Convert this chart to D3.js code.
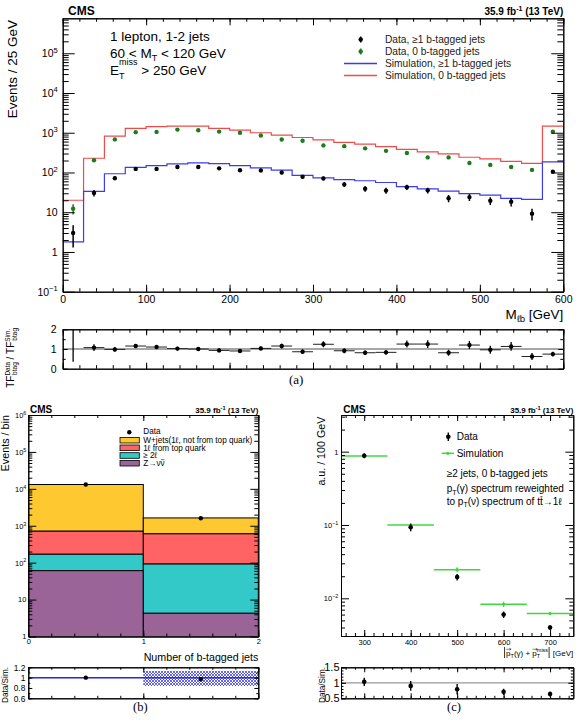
<!DOCTYPE html>
<html><head><meta charset="utf-8">
<script src="https://cdn.jsdelivr.net/npm/d3@7"></script>
<style>body{margin:0;background:#fff} text{white-space:pre}</style>
</head><body>
<svg id="chart" width="581" height="720" xmlns="http://www.w3.org/2000/svg"></svg>
<script>
// ---------------- DATA ----------------
// Panel (a): M_lb distribution, 25 GeV bins
const mlbEdges = [0,25,50,75,100,125,150,175,200,225,250,275,300,325,350,375,400,425,450,475,500,525,550,575,600];
const simBtag  = [1.8,33.5,93,135,148,165,174,167,148,131,114,85,73,66,62,56,44,38.5,34,29.3,27,22.3,21,186];
const sim0b    = [20,228,820,1290,1420,1470,1470,1290,1163,1000,870,760,665,575,515,445,380,330,295,242,220,190,170,1470];
const dataBtag    = [3.0,30.5,72,123,123,138,138,127,114,113,100,78,71,50,39,35,42.6,35.5,22.4,24,19.5,18.3,9.2,105];
const dataBtagErr = [1.7,5.5,8.5,11,11,12,12,11,11,11,10,9,8.5,7,6.2,6,6.5,6,4.7,4.9,4.4,4.3,3,10];
const data0b      = [12.3,204,680,1035,1050,1200,1160,1070,1000,850,676,630,480,460,405,350,310,240,240,174,155,138,116,1070];
const data0bErr   = [3.5,14,26,32,32,35,34,33,32,29,26,25,22,21,20,19,18,15,15,13,12,12,11,33];
const ratioTF     = [2.6,1.07,0.98,1.15,1.10,1.02,1.0,0.93,0.90,1.03,1.15,0.86,1.24,0.91,0.81,0.83,1.25,1.25,0.81,1.20,0.96,1.13,0.62,0.74];
const ratioTFErr  = [2.25,0.17,0.12,0.1,0.1,0.1,0.1,0.1,0.1,0.1,0.12,0.12,0.15,0.12,0.12,0.12,0.18,0.2,0.15,0.2,0.2,0.22,0.18,0.12];
const mlbTicks = [0,100,200,300,400,500,600];

// Panel (b): number of b-tagged jets
const nbEdges = [0,1,2];
const nbTicks = [0,1,2];
const zNuNu     = [61, 4.3];
const twoLep    = [110, 88.7];
const oneLepTop = [549, 517];
const wJets     = [12380, 1020];
const dataNb    = [13100, 1600];
const ratioNb   = [1.0, 0.97];
const ratioNbLo = [0.99, 0.84];
const ratioNbHi = [1.01, 1.13];

// Panel (c): photon + MET pT
const ptEdges   = [250,350,450,550,650,750];
const ptCenters = [300,400,500,600,700];
const ptData    = [0.88,0.093,0.0195,0.006,0.004];
const ptDataErr = [0.07,0.011,0.002,0.0006,0.0003];
const ptSim     = [0.87,0.10,0.0246,0.0083,0.0062];
const ptSimErr  = [0.02,0.006,0.002,0.0007,0.0003];
const ratioPt   = [1.03,0.90,0.79,0.71,0.64];
const ratioPtErr= [0.13,0.16,0.17,0.1,0.08];
const ptTicks = [300,400,500,600,700];

// ---------------- HELPERS ----------------
const FONT = '"Liberation Sans", Arial, Helvetica, sans-serif';
const SERIF = '"Liberation Serif", "Times New Roman", serif';
const NB = '\u00A0';
const svg = d3.select('#chart');
svg.append('rect').attr('width',581).attr('height',720).attr('fill','#fff');

function styleAxis(g, fs) {
  g.attr('font-family', FONT).attr('font-size', fs);
  g.select('.domain').attr('stroke', '#000').attr('stroke-width', 1);
  g.selectAll('.tick line').attr('stroke', '#000').attr('stroke-width', 1);
  g.selectAll('.tick text').attr('fill', '#000');
}
function frame(g, x, y, o) {
  const [x0, x1] = x.range(), [yb, yt] = y.range();
  const mk = (axis, tr, vals, len, fmt, pad) => {
    const a = g.append('g').attr('transform', tr)
      .call(axis.tickValues(vals).tickSizeInner(-len).tickSizeOuter(0).tickPadding(pad || 0).tickFormat(fmt || (() => '')));
    styleAxis(a, o.fs);
    return a;
  };
  mk(d3.axisBottom(x), `translate(0,${yb})`, o.xMinor, o.xMinLen);
  const bottom = mk(d3.axisBottom(x), `translate(0,${yb})`, o.xMajor, o.xLen, o.xFmt, o.xPad);
  mk(d3.axisTop(x), `translate(0,${yt})`, o.xMinor, o.xMinLen);
  mk(d3.axisTop(x), `translate(0,${yt})`, o.xMajor, o.xLen);
  mk(d3.axisLeft(y), `translate(${x0},0)`, o.yMinor, o.yMinLen);
  const left = mk(d3.axisLeft(y), `translate(${x0},0)`, o.yMajor, o.yLen, o.yFmt, o.yPad);
  mk(d3.axisRight(y), `translate(${x1},0)`, o.yMinor, o.yMinLen);
  mk(d3.axisRight(y), `translate(${x1},0)`, o.yMajor, o.yLen);
  return { bottom, left };
}
function logMajors(dom) {
  const out = [];
  for (let e = Math.ceil(Math.log10(dom[0]) - 1e-9); e <= Math.floor(Math.log10(dom[1]) + 1e-9); e++) out.push(Math.pow(10, e));
  return out;
}
function logMinors(dom) {
  const out = [];
  for (let e = Math.floor(Math.log10(dom[0])); e <= Math.ceil(Math.log10(dom[1])); e++)
    for (let k = 2; k <= 9; k++) { const v = k * Math.pow(10, e); if (v >= dom[0] && v <= dom[1]) out.push(v); }
  return out;
}
function linMinors(a, b, step) {
  const out = []; const n = Math.round((b - a) / step);
  for (let i = 0; i <= n; i++) out.push(+(a + i * step).toFixed(6));
  return out;
}
function powLabels(axisG, fs) {
  axisG.selectAll('.tick text').each(function (d) {
    const e = Math.round(Math.log10(d));
    const t = d3.select(this).text(null);
    if (e === 0) { t.text('1'); return; }
    if (e === 1) { t.text('10'); return; }
    t.append('tspan').text('10');
    t.append('tspan').attr('font-size', fs * 0.72).attr('dy', -fs * 0.42).text(e < 0 ? '−' + (-e) : String(e));
  });
}
function txt(x, y, s, fs, opts = {}, parent) {
  const t = (parent || svg).append('text').attr('x', x).attr('y', y).attr('font-family', opts.family || FONT)
    .attr('font-size', fs).attr('fill', opts.fill || '#000');
  if (opts.anchor) t.attr('text-anchor', opts.anchor);
  if (opts.weight) t.attr('font-weight', opts.weight);
  if (opts.rotate) t.attr('transform', `rotate(-90,${x},${y})`);
  if (s !== null) t.text(s);
  return t;
}
// sequence of text pieces; returns total width
function seq(x, y, pieces, anchorEnd) {
  const g = svg.append('g');
  let cur = 0;
  pieces.forEach(p => {
    if (p.bar) {
      g.append('line').attr('x1', cur + 1).attr('x2', cur + 1).attr('y1', y - p.bar[0]).attr('y2', y + p.bar[1]).attr('stroke', '#000').attr('stroke-width', 0.8);
      cur += 2.5; return;
    }
    const t = txt(cur, y + (p.dy || 0), p.t, p.fs, {}, g);
    const w = t.node().getComputedTextLength();
    if (p.arrow) {
      const ya = y - p.fs * 0.78, x0 = cur + 0.3, x1 = cur + w + 0.6;
      g.append('path').attr('d', `M${x0},${ya}H${x1}M${x1 - 1.6},${ya - 1}L${x1},${ya}L${x1 - 1.6},${ya + 1}`)
        .attr('fill', 'none').attr('stroke', '#000').attr('stroke-width', 0.5);
    }
    if (p.over) {
      const yo = y - p.fs * 0.78;
      g.append('line').attr('x1', cur + 0.5).attr('x2', cur + w - 0.3).attr('y1', yo).attr('y2', yo).attr('stroke', '#000').attr('stroke-width', p.fs * 0.07);
    }
    if (!p.noAdv) cur += w;
  });
  g.attr('transform', `translate(${anchorEnd ? x - cur : x},0)`);
  return cur;
}
function lumi(xEnd, y, fs) {
  const t = txt(xEnd, y, null, fs, { anchor: 'end', weight: 'bold' });
  t.append('tspan').text('35.9 fb');
  t.append('tspan').attr('font-size', fs * 0.7).attr('dy', -fs * 0.4).text('-1');
  t.append('tspan').attr('dy', fs * 0.4).text(NB + '(13 TeV)');
}
function stepPts(edges, vals) {
  const p = []; vals.forEach((v, i) => { p.push([edges[i], v]); p.push([edges[i + 1], v]); }); return p;
}
const defs = svg.append('defs');
function clip(id, x, y) {
  const [x0, x1] = x.range(), [yb, yt] = y.range();
  defs.append('clipPath').attr('id', id).append('rect').attr('x', x0).attr('y', yt).attr('width', x1 - x0).attr('height', yb - yt);
}

// ================= PANEL (a) =================
const RED = '#f04b4b', BLUE = '#3b3bf0', DGREEN = '#1f7a1f';
const ax = d3.scaleLinear().domain([0, 600]).range([62.7, 563.3]);
const ay = d3.scaleLog().domain([0.1, Math.pow(10, 5.88)]).range([291.7, 18.3]);
clip('clipA', ax, ay);
const gA = svg.append('g');
const plotA = gA.append('g').attr('clip-path', 'url(#clipA)');
const lineA = d3.line().x(d => ax(d[0])).y(d => ay(d[1]));
plotA.append('path').attr('d', lineA(stepPts(mlbEdges, sim0b))).attr('fill', 'none').attr('stroke', RED).attr('stroke-width', 1.2);
plotA.append('path').attr('d', lineA(stepPts(mlbEdges, simBtag))).attr('fill', 'none').attr('stroke', BLUE).attr('stroke-width', 1.2);
const mids = mlbEdges.slice(0, -1).map((e, i) => (e + mlbEdges[i + 1]) / 2);
function pointsA(vals, errs, col) {
  const g = plotA.append('g');
  vals.forEach((v, i) => {
    g.append('line').attr('x1', ax(mids[i])).attr('x2', ax(mids[i]))
      .attr('y1', ay(Math.max(v - errs[i], 0.05))).attr('y2', ay(v + errs[i])).attr('stroke', col).attr('stroke-width', 1.5);
    g.append('circle').attr('cx', ax(mids[i])).attr('cy', ay(v)).attr('r', 2.2).attr('fill', col);
  });
}
pointsA(data0b, data0bErr, DGREEN);
pointsA(dataBtag, dataBtagErr, '#000');

const fA = frame(gA, ax, ay, {
  fs: 10.5, xMajor: mlbTicks, xMinor: linMinors(0, 600, 20), xLen: 7, xMinLen: 3.5, xFmt: d3.format('d'), xPad: 4,
  yMajor: logMajors(ay.domain()), yMinor: logMinors(ay.domain()), yLen: 12, yMinLen: 6, yFmt: d => d, yPad: 5
});
powLabels(fA.left, 10.5);

txt(68, 14.5, 'CMS', 12, { weight: 'bold' });
lumi(563.3, 15.3, 10);
txt(16.5, 20, 'Events / 25 GeV', 13.5, { anchor: 'end', rotate: true });
{
  const t = txt(563.3, 318.5, null, 13.5, { anchor: 'end' });
  t.append('tspan').text('M');
  t.append('tspan').attr('font-size', 9.5).attr('dy', 3.5).text('ℓb');
  t.append('tspan').attr('dy', -3.5).text(NB + '[GeV]');
}
txt(110, 41, '1 lepton, 1-2 jets', 13.5);
seq(110, 57.5, [
  { t: '60 < M', fs: 13.5 },
  { t: 'T', fs: 9, dy: 3.5 },
  { t: NB + '< 120 GeV', fs: 13.5 }
]);
seq(110, 74.5, [
  { t: 'E', fs: 13.5 },
  { t: 'T', fs: 9, dy: 4, noAdv: true },
  { t: 'miss', fs: 9, dy: -9.5 },
  { t: NB + '> 250 GeV', fs: 13.5 }
]);

// legend (a)
const legA = [
  { t: 'Data, ≥1 b-tagged jets', type: 'pt', col: '#000', y: 39.5 },
  { t: 'Data, 0 b-tagged jets', type: 'pt', col: DGREEN, y: 51.5 },
  { t: 'Simulation, ≥1 b-tagged jets', type: 'ln', col: BLUE, y: 63.5 },
  { t: 'Simulation, 0 b-tagged jets', type: 'ln', col: RED, y: 75.5 }
];
legA.forEach(l => {
  if (l.type === 'pt') {
    svg.append('line').attr('x1', 360.7).attr('x2', 360.7).attr('y1', l.y - 3).attr('y2', l.y + 3).attr('stroke', l.col).attr('stroke-width', 1.5);
    svg.append('circle').attr('cx', 360.7).attr('cy', l.y).attr('r', 2.2).attr('fill', l.col);
  } else {
    svg.append('line').attr('x1', 344).attr('x2', 377).attr('y1', l.y).attr('y2', l.y).attr('stroke', l.col).attr('stroke-width', 1.5);
  }
  txt(385, l.y + 3.6, l.t, 10.2, { fill: '#222' });
});

// ratio (a)
const ary = d3.scaleLinear().domain([0, 2]).range([368.7, 329.3]);
clip('clipAR', ax, ary);
const gAR = svg.append('g');
const plotAR = gAR.append('g').attr('clip-path', 'url(#clipAR)');
plotAR.append('line').attr('x1', ax(0)).attr('x2', ax(600)).attr('y1', ary(1)).attr('y2', ary(1)).attr('stroke', '#888').attr('stroke-width', 1.5);
ratioTF.forEach((v, i) => {
  if (i > 0) plotAR.append('line').attr('x1', ax(mlbEdges[i])).attr('x2', ax(mlbEdges[i + 1])).attr('y1', ary(v)).attr('y2', ary(v)).attr('stroke', '#222').attr('stroke-width', 1);
  plotAR.append('line').attr('x1', ax(mids[i])).attr('x2', ax(mids[i])).attr('y1', ary(v - ratioTFErr[i])).attr('y2', ary(v + ratioTFErr[i])).attr('stroke', '#000').attr('stroke-width', 1.3);
  plotAR.append('circle').attr('cx', ax(mids[i])).attr('cy', ary(v)).attr('r', 2.2).attr('fill', '#000');
});
frame(gAR, ax, ary, {
  fs: 10.5, xMajor: mlbTicks, xMinor: linMinors(0, 600, 20), xLen: 6, xMinLen: 3.5,
  yMajor: [0, 1, 2], yMinor: [0.5, 1.5], yLen: 5, yMinLen: 3, yFmt: d3.format('d'), yPad: 6
});
{
  const t = txt(14, 328, null, 10, { anchor: 'end', rotate: true });
  t.append('tspan').text('TF');
  t.append('tspan').attr('font-size', 6.5).attr('dy', -4).text('Data');
  t.append('tspan').attr('font-size', 6.5).attr('dx', -13).attr('dy', 7).text('btag');
  t.append('tspan').attr('dy', -3).text(NB + '/' + NB + 'TF');
  t.append('tspan').attr('font-size', 6.5).attr('dy', -4).text('Sim.');
  t.append('tspan').attr('font-size', 6.5).attr('dx', -12).attr('dy', 7).text('btag');
}
txt(289, 384, '(a)', 13, { family: SERIF });

// ================= PANEL (b) =================
const bx = d3.scaleLinear().domain([0, 2]).range([28.3, 258.3]);
const by = d3.scaleLog().domain([1, 1e6]).range([636.5, 415]);
clip('clipB', bx, by);
const gB = svg.append('g');
const plotB = gB.append('g').attr('clip-path', 'url(#clipB)');
const rowsB = nbEdges.slice(0, -1).map((e, i) => ({ lo: e, hi: nbEdges[i + 1], z: zNuNu[i], two: twoLep[i], one: oneLepTop[i], w: wJets[i] }));
const stackKeys = ['z', 'two', 'one', 'w'];
const stackCols = { z: '#9a6499', two: '#33c9c9', one: '#ff6363', w: '#fdc830' };
const seriesB = d3.stack().keys(stackKeys)(rowsB);
seriesB.forEach(s => {
  s.forEach(d => {
    const y0 = by(Math.max(d[0], 1)), y1 = by(d[1]);
    plotB.append('rect').attr('x', bx(d.data.lo)).attr('width', bx(d.data.hi) - bx(d.data.lo))
      .attr('y', y1).attr('height', y0 - y1).attr('fill', stackCols[s.key]).attr('stroke', '#000').attr('stroke-width', 1);
  });
});
dataNb.forEach((v, i) => {
  plotB.append('circle').attr('cx', bx((nbEdges[i] + nbEdges[i + 1]) / 2)).attr('cy', by(v)).attr('r', 2.2).attr('fill', '#000');
});
const fB = frame(gB, bx, by, {
  fs: 7.5, xMajor: nbTicks, xMinor: linMinors(0, 2, 0.2), xLen: 6, xMinLen: 3, xFmt: d3.format('d'), xPad: 2.5,
  yMajor: logMajors(by.domain()), yMinor: logMinors(by.domain()), yLen: 8, yMinLen: 4, yFmt: d => d, yPad: 2
});
powLabels(fB.left, 7.5);
txt(30, 413, 'CMS', 10, { weight: 'bold' });
lumi(258.3, 413, 8);
txt(8.5, 415, 'Events / bin', 10.8, { anchor: 'end', rotate: true });
txt(258.3, 661, 'Number of b-tagged jets', 10.7, { anchor: 'end' });
// legend (b)
svg.append('circle').attr('cx', 129.3).attr('cy', 432.3).attr('r', 2.2).attr('fill', '#000');
txt(143.3, 434.2, 'Data', 8.2);
const legB = [
  { t: [{ t: 'W+jets(1ℓ, not from top quark)', fs: 8.2 }], k: 'w', y: 440.2 },
  { t: [{ t: '1ℓ from top quark', fs: 8.2 }], k: 'one', y: 447.8 },
  { t: [{ t: '≥ 2ℓ', fs: 8.2 }], k: 'two', y: 455.5 },
  { t: [{ t: 'Z→ν', fs: 8.2 }, { t: 'ν', fs: 8.2, over: true }], k: 'z', y: 463.2 }
];
legB.forEach(l => {
  svg.append('rect').attr('x', 120).attr('y', l.y - 2.8).attr('width', 19.3).attr('height', 5.6).attr('fill', stackCols[l.k]).attr('stroke', '#000').attr('stroke-width', 0.8);
  seq(143.3, l.y + 2.9, l.t);
});
// ratio (b)
const bry = d3.scaleLinear().domain([0.6, 1.2]).range([698.3, 667.3]);
clip('clipBR', bx, bry);
const pat = defs.append('pattern').attr('id', 'hatch').attr('patternUnits', 'userSpaceOnUse').attr('width', 3).attr('height', 3);
pat.append('path').attr('d', 'M-0.5,0.5 L0.5,-0.5 M0,3 L3,0 M2.5,3.5 L3.5,2.5').attr('stroke', '#2a2ae0').attr('stroke-width', 0.7);
pat.append('path').attr('d', 'M0,0 L3,3 M-0.5,2.5 L0.5,3.5 M2.5,-0.5 L3.5,0.5').attr('stroke', '#2a2ae0').attr('stroke-width', 0.7);
const gBR = svg.append('g');
const plotBR = gBR.append('g').attr('clip-path', 'url(#clipBR)');
ratioNb.forEach((v, i) => {
  plotBR.append('rect').attr('x', bx(nbEdges[i])).attr('width', bx(nbEdges[i + 1]) - bx(nbEdges[i]))
    .attr('y', bry(ratioNbHi[i])).attr('height', bry(ratioNbLo[i]) - bry(ratioNbHi[i])).attr('fill', 'url(#hatch)');
});
plotBR.append('line').attr('x1', bx(0)).attr('x2', bx(2)).attr('y1', bry(1)).attr('y2', bry(1)).attr('stroke', '#2a2ae0').attr('stroke-width', 1.5);
ratioNb.forEach((v, i) => {
  plotBR.append('circle').attr('cx', bx((nbEdges[i] + nbEdges[i + 1]) / 2)).attr('cy', bry(v)).attr('r', 2.2).attr('fill', '#000');
});
frame(gBR, bx, bry, {
  fs: 8.4, xMajor: nbTicks, xMinor: linMinors(0, 2, 0.2), xLen: 5, xMinLen: 2.5,
  yMajor: [0.6, 0.8, 1.0, 1.2], yMinor: linMinors(0.6, 1.2, 0.1), yLen: 4, yMinLen: 2, yFmt: d => (d === 1 ? '1' : d.toFixed(1)), yPad: 3
});
txt(7.5, 667, 'Data/Sim.', 8.2, { anchor: 'end', rotate: true });
txt(133, 710.5, '(b)', 12.5, { family: SERIF });

// ================= PANEL (c) =================
const cx = d3.scaleLinear().domain([250, 750]).range([341, 573.3]);
const cy = d3.scaleLog().domain([Math.pow(10, -2.514), Math.pow(10, 0.5)]).range([636, 415]);
clip('clipC', cx, cy);
const gC = svg.append('g');
const plotC = gC.append('g').attr('clip-path', 'url(#clipC)');
const GREEN = '#3fd83f';
ptSim.forEach((v, i) => {
  plotC.append('line').attr('x1', cx(ptEdges[i])).attr('x2', cx(ptEdges[i + 1])).attr('y1', cy(v)).attr('y2', cy(v)).attr('stroke', GREEN).attr('stroke-width', 1.5);
  plotC.append('line').attr('x1', cx(ptCenters[i])).attr('x2', cx(ptCenters[i])).attr('y1', cy(v - ptSimErr[i])).attr('y2', cy(v + ptSimErr[i])).attr('stroke', GREEN).attr('stroke-width', 1.3);
  plotC.append('circle').attr('cx', cx(ptCenters[i])).attr('cy', cy(v)).attr('r', 1.6).attr('fill', GREEN);
});
ptData.forEach((v, i) => {
  plotC.append('line').attr('x1', cx(ptCenters[i])).attr('x2', cx(ptCenters[i])).attr('y1', cy(v - ptDataErr[i])).attr('y2', cy(v + ptDataErr[i])).attr('stroke', '#000').attr('stroke-width', 1.4);
  plotC.append('circle').attr('cx', cx(ptCenters[i])).attr('cy', cy(v)).attr('r', 2.3).attr('fill', '#000');
});
const fC = frame(gC, cx, cy, {
  fs: 7.5, xMajor: ptTicks, xMinor: linMinors(260, 740, 20), xLen: 6, xMinLen: 3, xFmt: d3.format('d'), xPad: 4,
  yMajor: logMajors(cy.domain()), yMinor: logMinors(cy.domain()), yLen: 8, yMinLen: 4, yFmt: d => d, yPad: 2.7
});
powLabels(fC.left, 7.5);
txt(343.3, 413, 'CMS', 10, { weight: 'bold' });
lumi(573.3, 413, 8);
txt(325, 416.7, 'a.u. / 100 GeV', 10.7, { anchor: 'end', rotate: true });
// x title (c)
seq(573.3, 655.5, [
  { bar: [8.5, 2.5] },
  { t: 'p', fs: 8, arrow: true },
  { t: 'T', fs: 5.5, dy: 2 },
  { t: '(γ)' + NB + '+' + NB, fs: 8 },
  { t: 'p', fs: 8, arrow: true },
  { t: 'T', fs: 5.5, dy: 2, noAdv: true },
  { t: 'miss', fs: 5.5, dy: -3.6 },
  { bar: [8.5, 2.5] },
  { t: NB + '[GeV]', fs: 8 }
], true);
// legend (c)
svg.append('line').attr('x1', 448.3).attr('x2', 448.3).attr('y1', 432.5).attr('y2', 441).attr('stroke', '#000').attr('stroke-width', 1.4);
svg.append('circle').attr('cx', 448.3).attr('cy', 436.7).attr('r', 2.3).attr('fill', '#000');
txt(456.7, 440.4, 'Data', 10);
svg.append('line').attr('x1', 441.7).attr('x2', 454).attr('y1', 453.3).attr('y2', 453.3).attr('stroke', GREEN).attr('stroke-width', 1.5);
svg.append('circle').attr('cx', 447.8).attr('cy', 453.3).attr('r', 1.6).attr('fill', GREEN);
txt(456.7, 457, 'Simulation', 10);
txt(446.7, 477, '≥2 jets, 0 b-tagged jets', 10);
seq(446.7, 492, [
  { t: 'p', fs: 10 },
  { t: 'T', fs: 7, dy: 2.5 },
  { t: '(γ) spectrum reweighted', fs: 10 }
]);
seq(446.7, 504.5, [
  { t: 'to p', fs: 10 },
  { t: 'T', fs: 7, dy: 2.5 },
  { t: '(ν) spectrum of t', fs: 10 },
  { t: 't', fs: 10, over: true },
  { t: '→1ℓ', fs: 10 }
]);
// ratio (c)
const cry = d3.scaleLinear().domain([0.5, 1.5]).range([698.3, 667.3]);
clip('clipCR', cx, cry);
const gCR = svg.append('g');
const plotCR = gCR.append('g').attr('clip-path', 'url(#clipCR)');
plotCR.append('line').attr('x1', cx(250)).attr('x2', cx(750)).attr('y1', cry(1)).attr('y2', cry(1)).attr('stroke', '#999').attr('stroke-width', 1.2);
ratioPt.forEach((v, i) => {
  plotCR.append('line').attr('x1', cx(ptCenters[i])).attr('x2', cx(ptCenters[i])).attr('y1', cry(v - ratioPtErr[i])).attr('y2', cry(v + ratioPtErr[i])).attr('stroke', '#000').attr('stroke-width', 1.4);
  plotCR.append('circle').attr('cx', cx(ptCenters[i])).attr('cy', cry(v)).attr('r', 2.3).attr('fill', '#000');
});
frame(gCR, cx, cry, {
  fs: 11, xMajor: ptTicks, xMinor: linMinors(260, 740, 20), xLen: 5, xMinLen: 2.5,
  yMajor: [0.5, 1, 1.5], yMinor: linMinors(0.5, 1.5, 0.1), yLen: 5, yMinLen: 2.5, yFmt: d => (d === 1 ? '1' : d.toFixed(1)), yPad: 1.5
});
txt(324.5, 667, 'Data/Sim.', 8.2, { anchor: 'end', rotate: true });
txt(447, 710.5, '(c)', 12.5, { family: SERIF });
</script>
</body></html>
